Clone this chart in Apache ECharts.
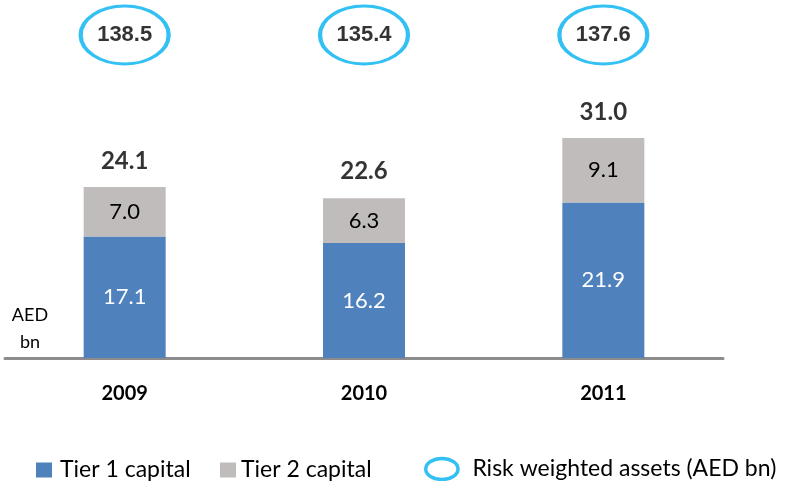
<!DOCTYPE html>
<html>
<head>
<meta charset="utf-8">
<script src="https://cdn.jsdelivr.net/npm/echarts@6/dist/echarts.min.js"></script>
<style>
  html, body { margin: 0; padding: 0; background: #fff; }
  #chart-container { width: 792px; height: 481px; }
</style>
</head>
<body>
<div id="chart-container"></div>
<script>
const years = ['2009', '2010', '2011'];
const tier1 = [17.1, 16.2, 21.9];
const tier2 = [7.0, 6.3, 9.1];
const totals = [24.1, 22.6, 31.0];
const rwa = [138.5, 135.4, 137.6];

const FONT = 'Lato';
const ELLIPSE = 'path://M0,28 A43,28 0 1,1 86,28 A43,28 0 1,1 0,28 Z';

function legendText(padLeft) {
  return {
    fontSize: 23,
    lineHeight: 30,
    color: '#000',
    fontFamily: FONT,
    padding: [0, 0, 0, padLeft]
  };
}

function init() {
  let option = {
    animation: false,
    textStyle: { fontFamily: FONT },
    grid: [
      { left: 5, right: 69, top: 74, bottom: 123 },
      { left: 5, right: 69, top: 6, height: 58 }
    ],
    xAxis: [
      {
        type: 'category',
        data: years,
        axisTick: { show: false },
        axisLine: { lineStyle: { color: '#8c8c8c', width: 3 } },
        axisLabel: {
          margin: 26,
          color: '#000',
          fontSize: 20,
          fontWeight: 'bold',
          fontFamily: FONT
        }
      },
      { type: 'category', data: years, gridIndex: 1, show: false }
    ],
    yAxis: [
      { type: 'value', min: 0, max: 40, show: false, splitLine: { show: false } },
      { type: 'value', min: -1, max: 1, gridIndex: 1, show: false }
    ],
    legend: [
      {
        left: 31, top: 450, itemWidth: 16, itemHeight: 15, icon: 'rect',
        data: ['Tier 1 capital'],
        textStyle: legendText(3)
      },
      {
        left: 215, top: 450, itemWidth: 16, itemHeight: 15, icon: 'rect',
        data: ['Tier 2 capital'],
        textStyle: legendText(0)
      },
      {
        left: 419, top: 449, itemWidth: 41, itemHeight: 21,
        data: [{ name: 'Risk weighted assets (AED bn)', icon: ELLIPSE }],
        itemStyle: { borderWidth: 3.5, borderColor: '#00b0f0', color: '#fff' },
        textStyle: legendText(5)
      }
    ],
    graphic: [
      {
        type: 'text',
        x: 30,
        y: 302,
        style: {
          text: 'AED\nbn',
          align: 'center',
          fontSize: 18,
          lineHeight: 27,
          fill: '#000',
          fontFamily: FONT
        }
      }
    ],
    series: [
      {
        name: 'Tier 1 capital',
        type: 'bar',
        stack: 'capital',
        barWidth: 82,
        itemStyle: { color: '#4f81bd' },
        label: {
          show: true,
          position: 'inside',
          color: '#fff',
          fontSize: 22,
          fontFamily: FONT,
          formatter: (p) => p.value.toFixed(1)
        },
        data: tier1
      },
      {
        name: 'Tier 2 capital',
        type: 'bar',
        stack: 'capital',
        barWidth: 82,
        itemStyle: { color: '#c0bcbb' },
        label: {
          show: true,
          position: 'inside',
          color: '#000',
          fontSize: 22,
          fontFamily: FONT,
          formatter: (p) => p.value.toFixed(1)
        },
        data: tier2
      },
      {
        name: 'Total',
        type: 'scatter',
        symbolSize: 0,
        label: {
          show: true,
          position: 'top',
          distance: 14,
          formatter: (p) => '{t|' + p.value.toFixed(1) + '}',
          rich: {
            t: { color: '#000', fontSize: 24, fontWeight: 'bold', fontFamily: FONT }
          }
        },
        data: totals
      },
      {
        name: 'Risk weighted assets (AED bn)',
        type: 'scatter',
        xAxisIndex: 1,
        yAxisIndex: 1,
        symbol: ELLIPSE,
        symbolSize: [88, 58],
        itemStyle: { color: '#fff', borderColor: '#00b0f0', borderWidth: 3.5 },
        label: {
          show: true,
          position: 'inside',
          formatter: (p) => '{r|' + p.value[2].toFixed(1) + '}',
          rich: {
            r: { color: '#000', fontSize: 22, fontWeight: 'bold', fontFamily: 'Liberation Sans' }
          }
        },
        data: rwa.map((v, i) => [i, 0, v])
      }
    ]
  };

  var myChart = echarts.init(document.getElementById('chart-container'));
  myChart.setOption(option);
  window.addEventListener('resize', myChart.resize);
}
init();
</script>
</body>
</html>
